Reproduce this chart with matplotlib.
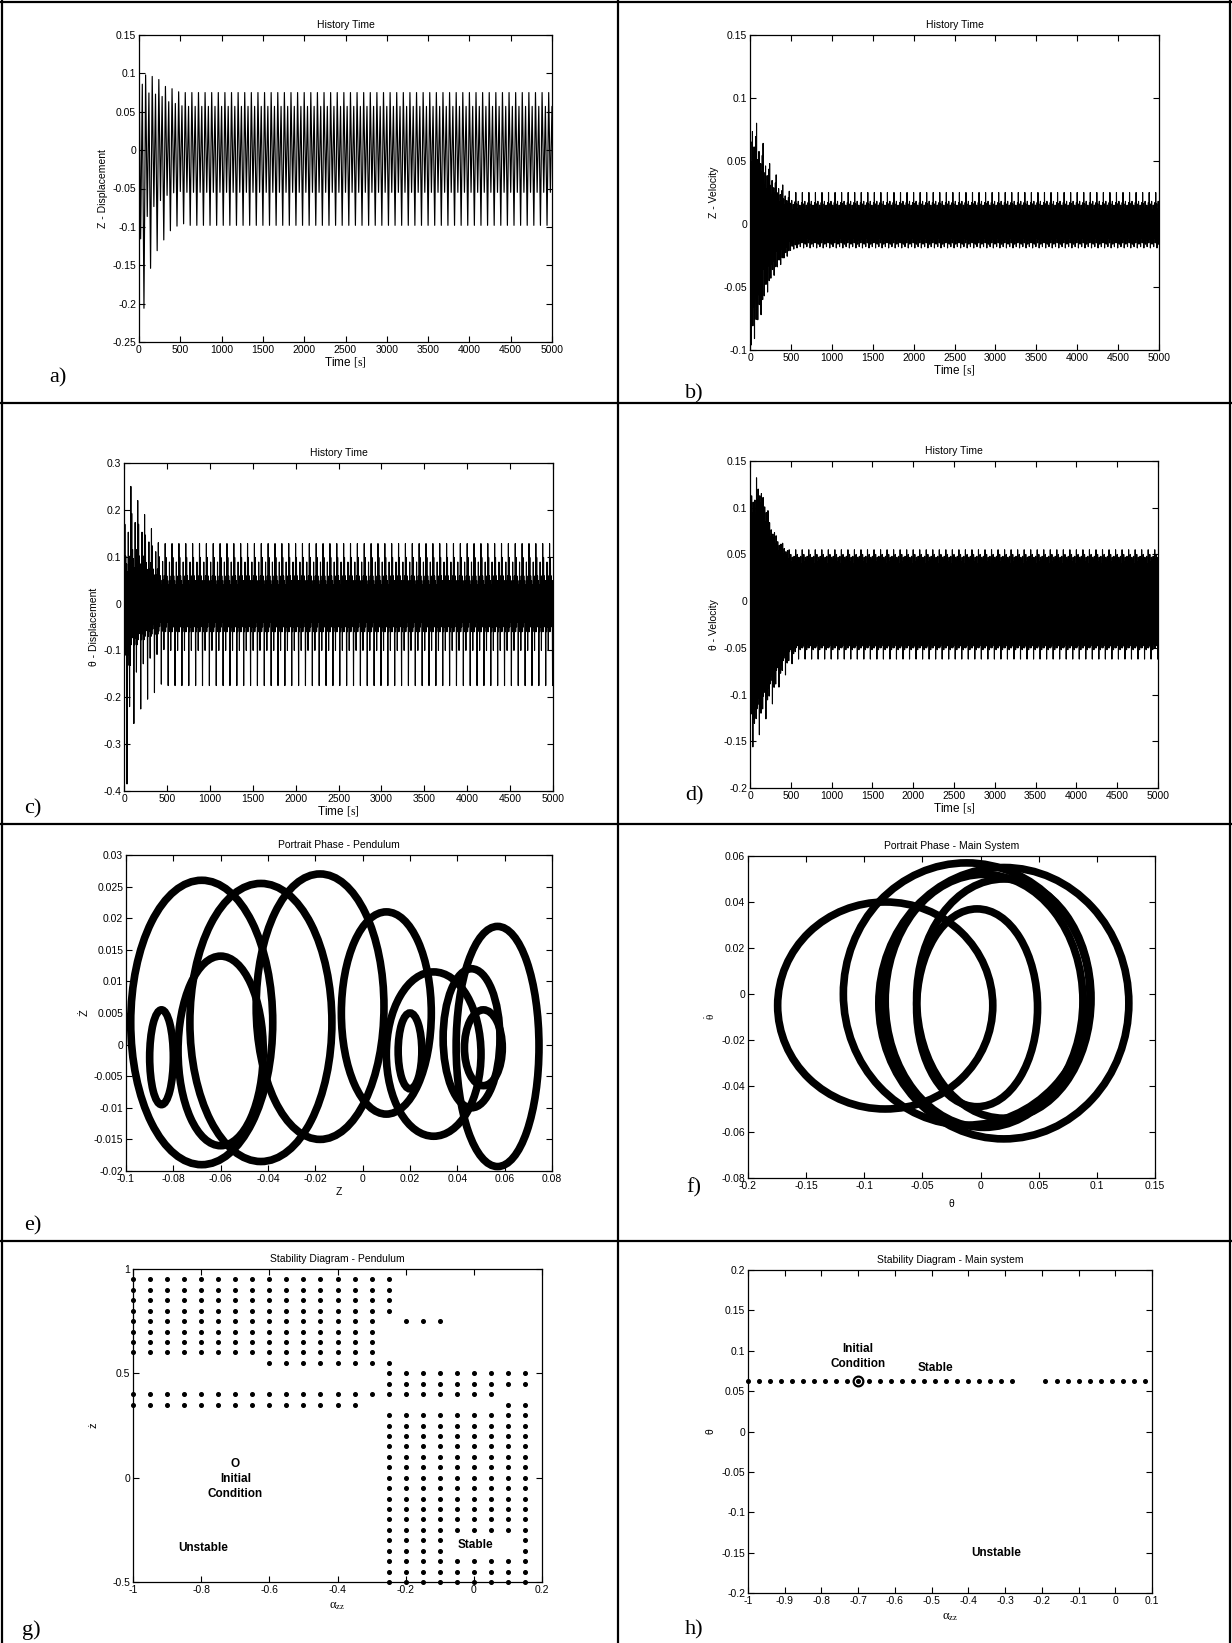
import numpy as np
import matplotlib
matplotlib.use('Agg')
import matplotlib.pyplot as plt
from matplotlib.patches import Ellipse
from matplotlib.ticker import FuncFormatter
from matplotlib.lines import Line2D

plt.rcParams['font.family'] = ['Liberation Sans', 'DejaVu Sans']
plt.rcParams['mathtext.fontset'] = 'custom'
plt.rcParams['mathtext.rm'] = 'Liberation Serif'
plt.rcParams['mathtext.it'] = 'Liberation Serif:italic'
plt.rcParams['mathtext.default'] = 'rm'
plt.rcParams['axes.unicode_minus'] = False

# ---- time histories: one cycle shape + per-cycle extremes ----
cycle_period = 80  # s, spacing of the big peaks

a_shape = [0.075, -0.055, 0.057, -0.098]
a_max = [0.113, 0.098, 0.096, 0.092, 0.083, 0.080, 0.076] + [0.075] * 56
a_min = [-0.206, -0.154, -0.131, -0.117, -0.105, -0.099, -0.096] + [-0.098] * 56

b_shape = [0.025, -0.012, 0.016, -0.019, 0.012, -0.014, 0.018, -0.016,
           0.011, -0.013, 0.015, -0.018, 0.013, -0.011, 0.017, -0.015]
b_max = [0.102, 0.080, 0.064, 0.048, 0.039, 0.031, 0.026] + [0.025] * 56
b_min = [-0.096, -0.076, -0.057, -0.043, -0.034, -0.027, -0.021] + [-0.019] * 56

c_shape = [0.13, -0.06, 0.10, -0.05, 0.06, -0.04, 0.05, -0.175,
           0.04, -0.06, 0.09, -0.05, 0.05, -0.10, 0.06, -0.06]
c_max = [0.22, 0.25, 0.22, 0.19, 0.16, 0.13] + [0.128] * 57
c_min = [-0.385, -0.256, -0.225, -0.204, -0.19, -0.172] + [-0.175] * 57

d_shape = [0.055, -0.05, 0.045, -0.048, 0.05, -0.045, 0.042, -0.062,
           0.047, -0.05, 0.044, -0.052, 0.048, -0.046, 0.04, -0.05]
d_max = [0.124, 0.132, 0.111, 0.084, 0.070, 0.062, 0.055] + [0.055] * 56
d_min = [-0.156, -0.143, -0.126, -0.110, -0.092, -0.079, -0.067] + [-0.062] * 56

# ---- phase portraits: loops as (centre x, centre y, width, height) ----
e_loops = [(-0.068, 0.0035, 0.060, 0.045), (-0.043, 0.0035, 0.060, 0.044),
           (-0.018, 0.006, 0.054, 0.042), (0.010, 0.005, 0.038, 0.032),
           (-0.060, -0.001, 0.036, 0.030), (-0.085, -0.002, 0.010, 0.015),
           (0.020, -0.001, 0.010, 0.012), (0.030, -0.0015, 0.040, 0.026),
           (0.057, -0.0003, 0.035, 0.038), (0.046, 0.001, 0.024, 0.022),
           (0.051, -0.0005, 0.016, 0.012)]
f_loops = [(-0.082, -0.005, 0.185, 0.090), (-0.012, 0.0, 0.212, 0.114),
           (0.020, -0.004, 0.215, 0.118), (0.003, -0.003, 0.170, 0.110),
           (-0.003, -0.006, 0.104, 0.086), (0.020, -0.002, 0.150, 0.104)]

# ---- stability diagrams: rows of tested points (y, [(x from, x to), ...]) ----
g_step = 0.05
g_rows = [(0.95, [(-1, -0.25)]), (0.90, [(-1, -0.25)]), (0.85, [(-1, -0.25)]),
          (0.80, [(-1, -0.25)]), (0.75, [(-1, -0.3), (-0.2, -0.1)]),
          (0.70, [(-1, -0.3)]), (0.65, [(-1, -0.3)]), (0.60, [(-1, -0.3)]),
          (0.55, [(-0.6, -0.25)]), (0.50, [(-0.25, 0.15)]), (0.45, [(-0.25, 0.15)]),
          (0.40, [(-1, 0.05)]), (0.35, [(-1, -0.35), (0.1, 0.15)])]
g_rows += [(y, [(-0.25, 0.15)]) for y in
           [0.3, 0.25, 0.2, 0.15, 0.1, 0.05, 0.0, -0.05, -0.1, -0.15, -0.2, -0.25]]
g_rows += [(-0.30, [(-0.25, -0.1), (0.15, 0.15)]), (-0.35, [(-0.25, -0.1), (0.15, 0.15)]),
           (-0.40, [(-0.25, 0.15)]), (-0.45, [(-0.25, 0.15)]), (-0.50, [(-0.25, 0.15)])]

h_step = 0.03
h_level = 0.0625
h_segments = [(-1.0, -0.28), (-0.19, 0.08)]
h_initial = (-0.7, 0.0625)

W, H = 1232, 1643
fig = plt.figure(figsize=(W / 100, H / 100), dpi=100)


def add_axes(x0, y0, x1, y1):
    ax = fig.add_axes([x0 / W, 1 - y1 / H, (x1 - x0) / W, (y1 - y0) / H])
    ax.tick_params(direction='in', top=True, right=True, length=4, width=0.8,
                   labelsize=7.5, pad=2)
    for s in ax.spines.values():
        s.set_linewidth(0.9)
    fmt = FuncFormatter(lambda v, p: '%g' % (round(v, 6) + 0.0))
    ax.xaxis.set_major_formatter(fmt)
    ax.yaxis.set_major_formatter(fmt)
    return ax


def build_series(shape, cyc_max, cyc_min):
    shape = np.array(shape)
    n = len(shape)
    t, y = [], []
    for i, (hi, lo) in enumerate(zip(cyc_max, cyc_min)):
        vals = np.where(shape > 0, shape * hi / shape.max(), shape * lo / shape.min())
        t.extend(i * cycle_period + np.arange(n) * cycle_period / n)
        y.extend(vals)
    return np.array(t), np.array(y)


def time_panel(box, shape, cmax, cmin, ylim, ystep, ylabel, lw):
    ax = add_axes(*box)
    t, y = build_series(shape, cmax, cmin)
    ax.plot(t, y, color='black', lw=lw)
    ax.set_xlim(0, 5000)
    ax.set_ylim(*ylim)
    ax.set_xticks(np.arange(0, 5001, 500))
    ax.set_yticks(np.arange(ylim[0], ylim[1] + 1e-9, ystep))
    ax.set_title('History Time', fontsize=7.5, pad=5)
    ax.set_xlabel(r'Time $[\mathrm{s}]$', fontsize=8.5, labelpad=0)
    ax.set_ylabel(ylabel, fontsize=7.5, labelpad=3)
    return ax


time_panel((139, 35, 552, 342), a_shape, a_max, a_min, (-0.25, 0.15), 0.05,
           'Z - Displacement', 0.85)
time_panel((750, 35, 1159, 350), b_shape, b_max, b_min, (-0.1, 0.15), 0.05,
           'Z - Velocity', 0.8)
time_panel((124, 463, 553, 791), c_shape, c_max, c_min, (-0.4, 0.3), 0.1,
           'θ - Displacement', 0.8)
time_panel((750, 461, 1158, 788), d_shape, d_max, d_min, (-0.2, 0.15), 0.05,
           'θ - Velocity', 0.8)

# e) phase portrait pendulum
ax = add_axes(126, 855, 552, 1171)
for cx, cy, w, h in e_loops:
    ax.add_patch(Ellipse((cx, cy), w, h, fill=False, ec='black', lw=5.5))
ax.set_xlim(-0.1, 0.08)
ax.set_ylim(-0.02, 0.03)
ax.set_xticks(np.arange(-0.1, 0.0801, 0.02))
ax.set_yticks(np.arange(-0.02, 0.0301, 0.005))
ax.set_title('Portrait Phase - Pendulum', fontsize=7.5, pad=5)
ax.set_xlabel('Z', fontsize=7.5, labelpad=2)
ax.set_ylabel('Ż', fontsize=8, labelpad=3)

# f) phase portrait main system
ax = add_axes(748, 856, 1155, 1178)
for cx, cy, w, h in f_loops:
    ax.add_patch(Ellipse((cx, cy), w, h, fill=False, ec='black', lw=5.5))
ax.set_xlim(-0.2, 0.15)
ax.set_ylim(-0.08, 0.06)
ax.set_xticks(np.arange(-0.2, 0.1501, 0.05))
ax.set_yticks(np.arange(-0.08, 0.0601, 0.02))
ax.set_title('Portrait Phase - Main System', fontsize=7.5, pad=5)
ax.set_xlabel('θ', fontsize=7.5, labelpad=6)
ax.set_ylabel(r'$\dot{\theta}$', fontsize=8, labelpad=3)

# g) stability diagram pendulum
ax = add_axes(133, 1269, 542, 1582)
gx, gy = [], []
for yv, segs in g_rows:
    for x0, x1 in segs:
        xs = np.arange(x0, x1 + 1e-6, g_step)
        gx.extend(xs)
        gy.extend([yv] * len(xs))
ax.plot(gx, gy, 'o', color='black', ms=2.6, clip_on=False)
ax.set_xlim(-1, 0.2)
ax.set_ylim(-0.5, 1)
ax.set_xticks(np.arange(-1, 0.201, 0.2))
ax.set_yticks([-0.5, 0, 0.5, 1])
ax.text(-0.7, 0.067, 'O', ha='center', va='center', fontsize=8.5, fontweight='bold')
ax.text(-0.7, -0.042, 'Initial\nCondition', ha='center', va='center', fontsize=8.5,
        fontweight='bold', linespacing=1.25)
ax.text(-0.795, -0.337, 'Unstable', ha='center', va='center', fontsize=8.5, fontweight='bold')
ax.text(0.006, -0.322, 'Stable', ha='center', va='center', fontsize=8.5, fontweight='bold')
ax.set_title('Stability Diagram - Pendulum', fontsize=7.5, pad=5)
ax.set_xlabel(r'$\alpha_{zz}$', fontsize=9, labelpad=4)
ax.set_ylabel('ż', fontsize=8, labelpad=10)

# h) stability diagram main system
ax = add_axes(748, 1270, 1152, 1593)
hx = np.concatenate([np.arange(x0, x1 + 1e-6, h_step) for x0, x1 in h_segments])
ax.plot(hx, [h_level] * len(hx), 'o', color='black', ms=2.6, clip_on=False)
ax.plot(*h_initial, 'o', mfc='none', mec='black', ms=7, mew=1.6)
ax.set_xlim(-1, 0.1)
ax.set_ylim(-0.2, 0.2)
ax.set_xticks(np.arange(-1, 0.101, 0.1))
ax.set_yticks(np.arange(-0.2, 0.201, 0.05))
ax.text(-0.7, 0.1027, 'Initial', ha='center', va='center', fontsize=8.5, fontweight='bold')
ax.text(-0.7, 0.084, 'Condition', ha='center', va='center', fontsize=8.5, fontweight='bold')
ax.text(-0.49, 0.079, 'Stable', ha='center', va='center', fontsize=8.5, fontweight='bold')
ax.text(-0.324, -0.15, 'Unstable', ha='center', va='center', fontsize=8.5, fontweight='bold')
ax.set_title('Stability Diagram - Main system', fontsize=7.5, pad=5)
ax.set_xlabel(r'$\alpha_{zz}$', fontsize=9, labelpad=4)
ax.set_ylabel('θ', fontsize=7.5, labelpad=4)

# table frame around the panels
for yy in [2, 403, 824, 1241]:
    fig.add_artist(Line2D([0, 1], [1 - yy / H] * 2, color='black', lw=1.6))
for xx in [2, 618, 1230]:
    fig.add_artist(Line2D([xx / W] * 2, [0, 1], color='black', lw=1.6))

# panel letters
letters = [('a)', 58, 378), ('b)', 694, 394), ('c)', 33, 809), ('d)', 694, 796),
           ('e)', 33, 1226), ('f)', 694, 1188), ('g)', 31, 1630), ('h)', 694, 1630)]
for txt, lx, ly in letters:
    fig.text(lx / W, 1 - ly / H, txt, ha='center', va='center', fontsize=16,
             family='Liberation Serif')

fig.savefig('out.png', dpi=100)
